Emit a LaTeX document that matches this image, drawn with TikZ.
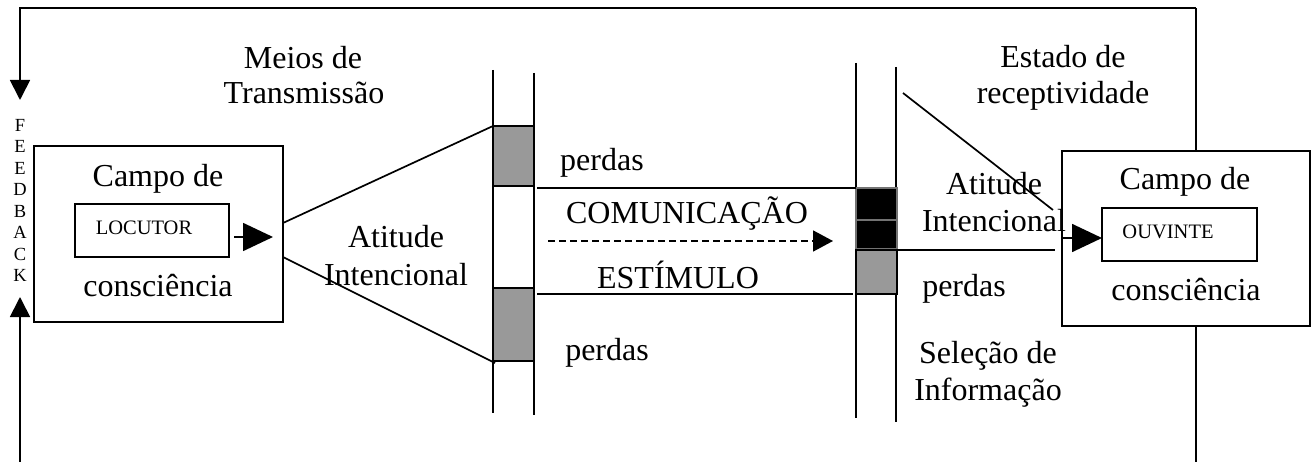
\documentclass[tikz,border=0pt]{standalone}
\usepackage{fontspec}
\setmainfont{Liberation Serif}
\usetikzlibrary{arrows.meta}
\tikzset{
  ln/.style={line width=1.7pt},
  bigt/.style={font=\fontsize{32}{36}\selectfont, anchor=base, inner sep=0pt},
  smallt/.style={font=\fontsize{20.5}{24}\selectfont, anchor=base, inner sep=0pt},
  fbt/.style={font=\fontsize{18.5}{20}\selectfont, inner sep=0pt},
  boxn/.style={draw, line width=1.7pt, inner sep=0pt, outer sep=0pt},
  grayb/.style={boxn, fill=black!40},
  blackb/.style={boxn, draw=black!55, fill=black},
  bigarrow/.style={ln, -{Triangle[length=30pt,width=28pt]}},
  fbarrow/.style={ln, -{Triangle[length=20pt,width=20pt]}},
}
\begin{document}
\begin{tikzpicture}[x=1pt,y=-1pt]
\useasboundingbox (0,0) rectangle (1314,462);

% vertical bars
\coordinate (b1t) at (493,70);  \coordinate (b1b) at (493,413);
\coordinate (b2t) at (534,73);  \coordinate (b2b) at (534,415);
\coordinate (b3t) at (856,63);  \coordinate (b3b) at (856,418);
\coordinate (b4t) at (896,67);  \coordinate (b4b) at (896,422);
\draw[ln] (b1t) -- (b1b);
\draw[ln] (b2t) -- (b2b);
\draw[ln] (b3t) -- (b3b);
\draw[ln] (b4t) -- (b4b);

% boxes
\node[boxn, minimum width=249pt, minimum height=176pt] (lbox) at (158.5,234) {};
\node[boxn, minimum width=154pt, minimum height=53pt] (loc) at (152,230.5) {};
\node[boxn, fill=white, minimum width=248pt, minimum height=175pt] (rbox) at (1186,238.5) {};
\node[boxn, minimum width=155pt, minimum height=53pt] (ouv) at (1179.5,234.5) {};

\node[grayb, minimum width=41pt, minimum height=60pt] (g1) at (513.5,156) {};
\node[grayb, minimum width=41pt, minimum height=73pt] (g2) at (513.5,324.5) {};
\node[blackb, minimum width=41pt, minimum height=32pt] (k1) at (876.5,204) {};
\node[blackb, minimum width=41pt, minimum height=29pt] (k2) at (876.5,234.5) {};
\node[grayb, minimum width=41pt, minimum height=44pt] (g3) at (876.5,272) {};

% left fan lines
\coordinate (f1a) at (283,223); \coordinate (f1b) at (493,126);
\coordinate (f2a) at (283,257); \coordinate (f2b) at (495,363);
\draw[ln] (f1a) -- (f1b);
\draw[ln] (f2a) -- (f2b);

% channel lines
\coordinate (h1a) at (537,188); \coordinate (h1b) at (856,188);
\coordinate (h2a) at (537,294); \coordinate (h2b) at (853,294);
\coordinate (h3a) at (896,250); \coordinate (h3b) at (1055,250);
\draw[ln] (h1a) -- (h1b);
\draw[ln] (h2a) -- (h2b);
\draw[ln] (h3a) -- (h3b);

% diagonal on right
\coordinate (d1) at (903,93); \coordinate (d2) at (1053,210);
\draw[ln] (d1) -- (d2);

% dashed arrow
\coordinate (c1) at (548,241); \coordinate (c2) at (833,241);
\draw[ln, dash pattern=on 7pt off 4pt, -{Triangle[length=20pt,width=21pt]}] (c1) -- (c2);

% arrows into / out of boxes
\coordinate (la1) at (234,237); \coordinate (la2) at (273,237);
\draw[bigarrow] (la1) -- (la2);
\coordinate (ra1) at (1063,238);
\draw[bigarrow] (ra1) -- (ouv.west |- ra1);

% feedback loop
\coordinate (fb0) at (20,462); \coordinate (fb1) at (20,297);
\coordinate (fb2) at (20,100); \coordinate (fb3) at (20,8);
\coordinate (fb4) at (1196,8); \coordinate (fb5) at (1196,462);
\draw[fbarrow] (fb0) -- (fb1);
\draw[fbarrow] (fb4) -- (fb3) -- (fb2);
\draw[ln] (fb4) -- (rbox.north -| fb4);
\draw[ln] (rbox.south -| fb5) -- (fb5);

% FEEDBACK letters
\foreach \l [count=\i from 0] in {F,E,E,D,B,A,C,K}
  \node[fbt] (fbl\i) at (20,125+21.5*\i) {\l};

% texts
\node[bigt] (t1) at (303,69) {Meios de};
\node[bigt] (t2) at (304,104) {Transmissão};
\node[bigt] (t3) at (158,187) {Campo de};
\node[bigt] (t4) at (158,297) {consciência};
\node[smallt] (t5) at (144,235) {LOCUTOR};
\node[bigt] (t6) at (396,248) {Atitude};
\node[bigt] (t7) at (396,286) {Intencional};
\node[bigt] (t8) at (602,171) {perdas};
\node[bigt] (t9) at (687,224) {COMUNICAÇÃO};
\node[bigt] (t10) at (678,288) {ESTÍMULO};
\node[bigt] (t11) at (607,360) {perdas};
\node[bigt] (t12) at (1063,68) {Estado de};
\node[bigt] (t13) at (1063,104) {receptividade};
\node[bigt] (t14) at (994,195) {Atitude};
\node[bigt] (t15) at (994,232) {Intencional};
\node[bigt] (t16) at (964,297) {perdas};
\node[bigt] (t17) at (988,363) {Seleção de};
\node[bigt] (t18) at (988,400) {Informação};
\node[bigt] (t19) at (1185,190) {Campo de};
\node[bigt] (t20) at (1186,300) {consciência};
\node[smallt] (t21) at (1168,239) {OUVINTE};
\end{tikzpicture}
\end{document}
